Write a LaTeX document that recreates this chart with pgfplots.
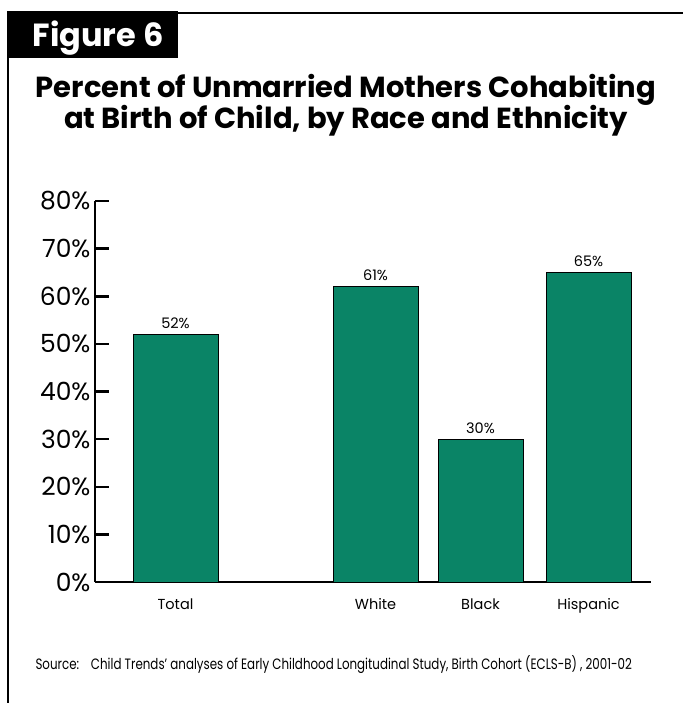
\documentclass[border=0pt]{standalone}
\usepackage{pgfplots}
\usepackage{pgfplotstable}
\pgfplotsset{compat=1.18}
\usepackage{fontspec}
\setmainfont{Poppins}
\definecolor{barg}{HTML}{0A8466}
\pgfplotstableread{
x y lab
175.5 52 52
375.5 62 61
480.5 30 30
588.5 65 65
}\data
\begin{document}
\begin{tikzpicture}[x=1pt,y=1pt]
\useasboundingbox (0pt,0pt) rectangle (683pt,-703pt);
\draw[line width=2.5pt] (8pt,-12pt) -- (8pt,-703pt);
\draw[line width=2.5pt] (170pt,-13pt) -- (683pt,-13pt);
\fill (7pt,-11pt) rectangle (178pt,-58pt);
\node[white, font=\bfseries\fontsize{32}{34}\selectfont, anchor=base] at (98pt,-47pt) {Figure 6};
\node[font=\bfseries\fontsize{29}{32}\selectfont, anchor=base] at (346pt,-98pt) {Percent of Unmarried Mothers Cohabiting};
\node[font=\bfseries\fontsize{29}{32}\selectfont, anchor=base] at (346pt,-129pt) {at Birth of Child, by Race and Ethnicity};
\begin{axis}[at={(95pt,-582pt)}, anchor=south west, scale only axis,
  width=556pt, height=381pt,
  xmin=95, xmax=651, ymin=0, ymax=80, enlargelimits=false,
  axis x line*=bottom, axis y line*=left,
  axis line style={line width=2.5pt, -},
  ytick align=inside,
  ytick={0,10,...,80},
  yticklabel={\pgfmathprintnumber{\tick}\%},
  /pgf/number format/assume math mode=true,
  yticklabel style={font=\fontsize{25}{27}\selectfont, xshift=-1pt},
  xtick={175.5,375.5,480.5,588.5},
  xticklabels={Total,White,Black,Hispanic},
  xticklabel style={font=\fontsize{14.5}{16}\selectfont, text height=0.75em, text depth=0.2em, yshift=-2pt},
  xtick style={draw=none},
  ytick style={line width=2.5pt, black},
  major tick length=14pt,
  ybar, bar width=85,
]
\addplot[fill=barg, draw=black, line width=0.8pt,
  nodes near coords={\pgfplotspointmeta\%},
  point meta=explicit symbolic,
  nodes near coords style={font=\fontsize{14.5}{16}\selectfont, black, yshift=2pt}]
  table[x=x,y=y,meta=lab]{\data};
\end{axis}
\node[anchor=west, font=\fontsize{15}{18}\selectfont] at (32pt,-665pt) {\scalebox{0.79}[1]{Source:\quad Child Trends' analyses of Early Childhood Longitudinal Study, Birth Cohort (ECLS-B) , 2001-02}};
\end{tikzpicture}
\end{document}
